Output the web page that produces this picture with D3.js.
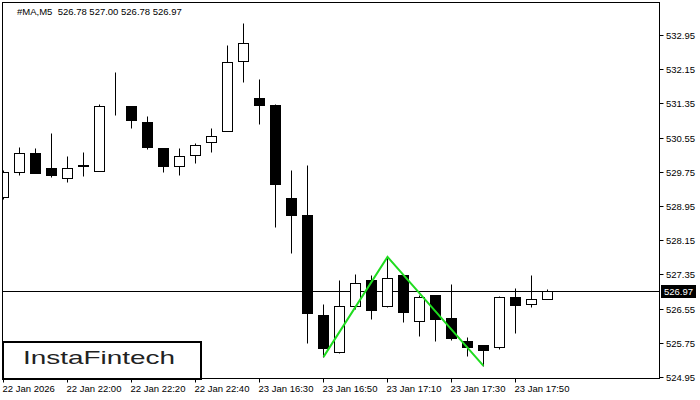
<!DOCTYPE html>
<html>
<head>
<meta charset="utf-8">
<script src="https://cdn.jsdelivr.net/npm/d3@7"></script>
<style>
    html, body { margin: 0; padding: 0; background: #fff; }
    svg { display: block; }
    text { font-family: "Liberation Sans", Arial, sans-serif; }
</style>
</head>
<body>
<svg id="chart" width="700" height="400"></svg>
<script>
// candles, M5
var times = [
    "22 Jan 21:40", "22 Jan 21:45", "22 Jan 21:50", "22 Jan 21:55", "22 Jan 22:00",
    "22 Jan 22:05", "22 Jan 22:10", "22 Jan 22:15", "22 Jan 22:20", "22 Jan 22:25",
    "22 Jan 22:30", "22 Jan 22:35", "22 Jan 22:40", "22 Jan 22:45", "22 Jan 22:50",
    "22 Jan 22:55", "23 Jan 16:30", "23 Jan 16:35", "23 Jan 16:40", "23 Jan 16:45",
    "23 Jan 16:50", "23 Jan 16:55", "23 Jan 17:00", "23 Jan 17:05", "23 Jan 17:10",
    "23 Jan 17:15", "23 Jan 17:20", "23 Jan 17:25", "23 Jan 17:30", "23 Jan 17:35",
    "23 Jan 17:40", "23 Jan 17:45", "23 Jan 17:50", "23 Jan 17:55", "23 Jan 18:00"
];
var opens = [529.17, 529.75, 530.18, 529.83, 529.61, 529.88, 529.78, 531.36, 531.28, 530.91,
    530.30, 529.89, 530.14, 530.44, 530.71, 532.35, 531.47, 531.31, 529.14, 528.74,
    526.40, 525.53, 526.60, 527.22, 526.60, 527.34, 526.25, 526.87, 526.33, 525.79,
    525.70, 525.66, 526.81, 526.65, 526.78];
var highs = [529.79, 530.33, 530.31, 530.65, 530.12, 530.21, 531.33, 532.08, 531.28, 531.05,
    530.30, 530.30, 530.42, 530.77, 532.72, 533.22, 531.91, 531.33, 529.79, 529.91,
    526.66, 527.22, 527.36, 527.33, 527.76, 527.34, 526.87, 526.87, 527.13, 525.88,
    525.70, 526.84, 527.03, 527.34, 527.00];
var lows = [529.11, 529.68, 529.72, 529.64, 529.52, 529.66, 529.78, 531.09, 530.78, 530.29,
    529.75, 529.68, 529.96, 530.22, 530.71, 531.86, 530.87, 528.47, 527.86, 525.75,
    525.42, 525.50, 526.53, 526.31, 526.58, 526.24, 525.91, 525.80, 525.82, 525.44,
    525.21, 525.61, 525.99, 526.59, 526.78];
var closes = [529.74, 530.18, 529.73, 529.68, 529.83, 529.90, 531.28, 531.36, 530.97, 530.34,
    529.89, 530.11, 530.37, 530.58, 532.33, 532.76, 531.32, 529.47, 528.75, 526.45,
    525.64, 526.60, 527.14, 526.52, 527.26, 526.48, 526.81, 526.31, 525.87, 525.66,
    525.57, 526.81, 526.64, 526.77, 526.97];

// double bottom outline
var patternIdx = [20, 24, 30];
var patternVal = [525.42, 527.76, 525.21];

var priceTicks = [524.95, 525.75, 526.55, 527.35, 528.15, 528.95, 529.75, 530.55, 531.35, 532.15, 532.95];
var timeTickIdx = [0, 4, 8, 12, 16, 20, 24, 28, 32];
var timeTickLabels = ["22 Jan 2026", "22 Jan 22:00", "22 Jan 22:20", "22 Jan 22:40", "23 Jan 16:30",
    "23 Jan 16:50", "23 Jan 17:10", "23 Jan 17:30", "23 Jan 17:50"];

var lastPrice = 526.97;
var header = "#MA,M5  526.78 527.00 526.78 526.97";

var svg = d3.select("#chart");

var plotL = 2.5, plotR = 659.5, plotT = 2.5, plotB = 378.5;

var x = d3.scaleLinear().domain([0, 41]).range([3.5, 659.5]);
var y = d3.scaleLinear().domain([524.95, 532.95]).range([377, 35]);

function py(v) { return Math.round(y(v)) + 0.5; }

svg.append("defs").append("clipPath").attr("id", "plot")
    .append("rect")
    .attr("x", plotL + 0.5).attr("y", plotT + 0.5)
    .attr("width", plotR - plotL - 1).attr("height", plotB - plotT - 1);

var plot = svg.append("g").attr("clip-path", "url(#plot)");

// current price line
plot.append("line")
    .attr("x1", plotL).attr("x2", plotR)
    .attr("y1", py(lastPrice)).attr("y2", py(lastPrice))
    .attr("stroke", "#000").attr("stroke-width", 1);

var candles = plot.selectAll("g.candle")
    .data(d3.range(times.length))
    .enter()
    .append("g")
    .classed("candle", true);

// тени
candles.append("line")
    .attr("x1", function (i) { return x(i); })
    .attr("x2", function (i) { return x(i); })
    .attr("y1", function (i) { return py(highs[i]); })
    .attr("y2", function (i) { return py(lows[i]); })
    .attr("stroke", "#000")
    .attr("stroke-width", 1);

// тела
candles.append("rect")
    .attr("x", function (i) { return x(i) - 5; })
    .attr("y", function (i) { return py(Math.max(opens[i], closes[i])); })
    .attr("width", 10)
    .attr("height", function (i) {
        return py(Math.min(opens[i], closes[i])) - py(Math.max(opens[i], closes[i]));
    })
    .attr("fill", function (i) { return closes[i] >= opens[i] ? "#fff" : "#000"; })
    .attr("stroke", "#000")
    .attr("stroke-width", 1);

// pattern
plot.append("path")
    .datum(patternIdx.map(function (d, k) { return [x(d), y(patternVal[k])]; }))
    .attr("d", d3.line())
    .attr("fill", "none")
    .attr("stroke", "#1fdc1f")
    .attr("stroke-width", 2);

// frame
svg.append("rect")
    .attr("x", plotL).attr("y", plotT)
    .attr("width", plotR - plotL).attr("height", plotB - plotT)
    .attr("fill", "none").attr("stroke", "#000").attr("stroke-width", 1);

// price axis
var yAxis = svg.append("g");
yAxis.selectAll("line")
    .data(priceTicks)
    .enter()
    .append("line")
    .attr("x1", plotR).attr("x2", plotR + 4)
    .attr("y1", function (d) { return py(d); })
    .attr("y2", function (d) { return py(d); })
    .attr("stroke", "#000");
yAxis.selectAll("text")
    .data(priceTicks)
    .enter()
    .append("text")
    .attr("x", 666)
    .attr("y", function (d) { return py(d) + 3.5; })
    .attr("font-size", "9.5px")
    .attr("fill", "#000")
    .text(d3.format(".2f"));

// last price label
svg.append("rect")
    .attr("x", 661).attr("y", py(lastPrice) - 6.5)
    .attr("width", 35).attr("height", 13)
    .attr("fill", "#000");
svg.append("text")
    .attr("x", 664).attr("y", py(lastPrice) + 3.5)
    .attr("font-size", "9.5px")
    .attr("fill", "#fff")
    .text(d3.format(".2f")(lastPrice));

// time axis
var xAxis = svg.append("g");
xAxis.selectAll("line")
    .data(timeTickIdx)
    .enter()
    .append("line")
    .attr("x1", function (d) { return x(d); })
    .attr("x2", function (d) { return x(d); })
    .attr("y1", plotB).attr("y2", plotB + 4)
    .attr("stroke", "#000");
xAxis.selectAll("text")
    .data(timeTickIdx)
    .enter()
    .append("text")
    .attr("x", function (d) { return x(d) - 1; })
    .attr("y", 392)
    .attr("font-size", "9.5px")
    .attr("fill", "#000")
    .text(function (d, k) { return timeTickLabels[k]; });

// header
svg.append("text")
    .attr("x", 17).attr("y", 15)
    .attr("font-size", "9.5px")
    .attr("fill", "#000")
    .attr("xml:space", "preserve")
    .text(header);

// logo
svg.append("rect")
    .attr("x", 3).attr("y", 342)
    .attr("width", 198).attr("height", 37)
    .attr("fill", "#fff")
    .attr("stroke", "#000")
    .attr("stroke-width", 2);
svg.append("text")
    .attr("x", 23).attr("y", 364)
    .attr("font-family", "Inter, 'Noto Sans', sans-serif")
    .attr("font-size", "19px")
    .attr("font-weight", 500)
    .attr("fill", "#222")
    .attr("textLength", 152)
    .attr("lengthAdjust", "spacingAndGlyphs")
    .text("InstaFintech");
</script>
</body>
</html>
